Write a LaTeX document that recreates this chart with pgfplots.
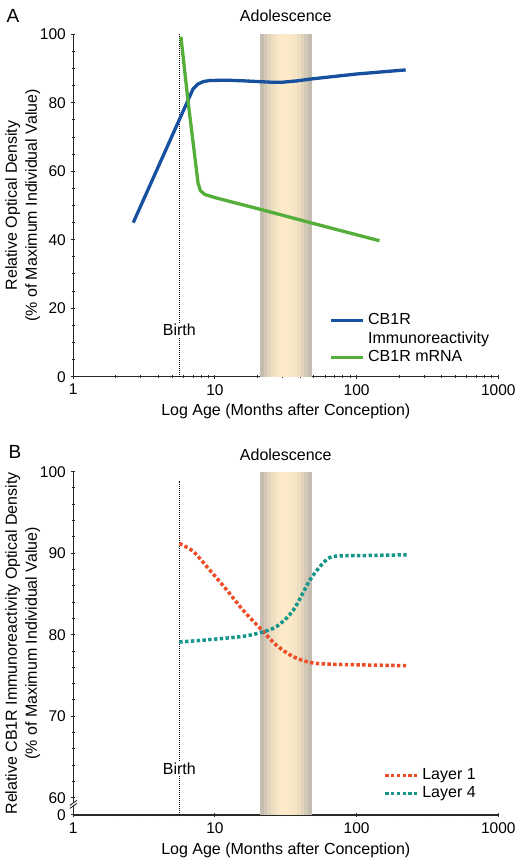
\documentclass[border=0pt]{standalone}
\usepackage{pgfplots}
\pgfplotsset{compat=1.18}
\usepackage{fontspec}
\setmainfont{Liberation Sans}
\definecolor{cbblue}{RGB}{22,80,158}
\definecolor{cbgreen}{RGB}{84,174,58}
\definecolor{lone}{RGB}{238,76,36}
\definecolor{lfour}{RGB}{20,150,138}
\definecolor{bandgrey}{RGB}{192,184,174}
\definecolor{bandcream}{RGB}{253,234,200}
\definecolor{axisgray}{RGB}{40,40,40}
\newcommand\strip[3]{\addplot[draw=none, fill=bandgrey!#3!bandcream, forget plot] coordinates {(#1,\bandlo) (#2,\bandlo) (#2,100) (#1,100)};}
\newcommand\bandstrips{%
\strip{20.80}{22.18}{92}\strip{22.08}{23.54}{68}\strip{23.44}{24.99}{45}%
\strip{24.89}{26.52}{27}\strip{26.42}{28.15}{13}\strip{28.05}{29.89}{4}%
\strip{29.79}{31.72}{0}\strip{31.62}{33.67}{0}\strip{33.57}{35.75}{4}%
\strip{35.65}{37.94}{13}\strip{37.84}{40.28}{27}\strip{40.18}{42.76}{45}%
\strip{42.66}{45.39}{68}\strip{45.29}{48.08}{92}}
\pgfplotsset{
  every axis/.append style={
    tick align=outside,
    major tick length=4pt, minor tick length=2.6pt,
    xtick style={draw=axisgray, line width=1pt},
    ytick style={draw=axisgray, line width=1pt},
  }
}
\begin{document}
\fontsize{16}{19.5}\selectfont
\begin{tikzpicture}
\useasboundingbox (0pt,0pt) rectangle (525pt,864pt);
\node[font=\fontsize{19}{22}\selectfont] at (13pt,848pt) {A};
\node[font=\fontsize{19}{22}\selectfont] at (15pt,412.3pt) {B};
% ---------------- Panel A
\def\bandlo{0}
\begin{axis}[
    scale only axis, width=425pt, height=342.4pt,
    at={(73.3pt,487.3pt)}, anchor=south west,
    xmode=log, log basis x=10, xmin=1, xmax=1000,
    xtick={1,10,100,1000}, xticklabels={1,10,100,1000},
    minor xtick={2,3,4,5,6,7,8,9,20,30,40,50,60,70,80,90,200,300,400,500,600,700,800,900},
    axis lines=left, axis line style={-, color=axisgray, line width=1.2pt},
    tick label style={font=\fontsize{15.5}{18}\selectfont},
    label style={font=\fontsize{16}{20}\selectfont, align=center},
    xlabel={Log Age (Months after Conception)},
    clip=false,
    legend cell align=left,
    legend image code/.code={\draw[#1] (0pt,0pt) -- (32pt,0pt);},
    ymin=0, ymax=100, ytick={0,20,40,60,80,100}, yticklabels={0,20,40,60,80,100},
    minor ytick={5,10,15,25,30,35,45,50,55,65,70,75,85,90,95},
    xlabel style={at={(axis description cs:0.5,-0.102)}, anchor=center},
    ylabel={Relative Optical Density\\(\% of Maximum Individual Value)},
    ylabel style={at={(axis description cs:-0.119,0.5)}, anchor=center},
    legend style={draw=none, fill=none, at={(0.595,0.197)}, anchor=north west,
      font=\fontsize{16}{19}\selectfont, row sep=0pt, column sep=2pt,
      nodes={inner sep=1.5pt, text height=12pt, text depth=3.5pt}},
]
\bandstrips
\addplot[black, line width=0.8pt, dash pattern=on 1pt off 1pt, forget plot]
  coordinates {(5.6,0) (5.6,100)};
\node[fill=white, inner sep=1pt] at (axis cs:5.6,13.6) {Birth};
\node at (axis cs:31.6,100) [yshift=18.3pt] {Adolescence};
\addplot[cbblue, line width=3.3pt, line join=round] coordinates {
 (2.65,45.0) (7.0,84.0) (7.6,85.5) (8.3,86.2) (9.2,86.5) (12,86.6) (16,86.4)
 (20,86.2) (25,86.0) (30,86.0) (38,86.4) (49,87.0) (100,88.4) (222,89.6)};
\addlegendentry{CB1R}
\addlegendimage{empty legend}
\addlegendentry{Immunoreactivity}
\addplot[cbgreen, line width=3.3pt, line join=round] coordinates {
 (5.75,99.3) (6.48,79.9) (7.6,56.5) (7.9,54.3) (8.5,53.2) (10,52.3)
 (20.8,48.9) (48,44.9) (145,39.7)};
\addlegendentry{CB1R mRNA}
\end{axis}
% ---------------- Panel B
\def\bandlo{57.88}
\begin{axis}[
    scale only axis, width=425pt, height=343.3pt,
    at={(73.3pt,49pt)}, anchor=south west,
    xmode=log, log basis x=10, xmin=1, xmax=1000,
    xtick={1,10,100,1000}, xticklabels={1,10,100,1000},
    minor xtick={2,3,4,5,6,7,8,9,20,30,40,50,60,70,80,90,200,300,400,500,600,700,800,900},
    axis lines=left, axis line style={-, color=axisgray, line width=1.2pt},
    tick label style={font=\fontsize{15.5}{18}\selectfont},
    label style={font=\fontsize{16}{20}\selectfont, align=center},
    xlabel={Log Age (Months after Conception)},
    clip=false,
    legend cell align=left,
    legend image code/.code={\draw[#1] (0pt,0pt) -- (32pt,0pt);},
    ymin=57.88, ymax=100, ytick={57.88,60,70,80,90,100}, yticklabels={0,60,70,80,90,100},
    minor ytick={62,64,66,68,72,74,76,78,82,84,86,88,92,94,96,98},
    xlabel style={at={(axis description cs:0.5,-0.102)}, anchor=center},
    ylabel={Relative CB1R Immunoreactivity Optical Density\\(\% of Maximum Individual Value)},
    ylabel style={at={(axis description cs:-0.119,0.5)}, anchor=center},
    legend style={draw=none, fill=none, at={(0.722,0.147)}, anchor=north west,
      font=\fontsize{16}{19}\selectfont, row sep=0pt, column sep=2pt,
      nodes={inner sep=1.5pt, text height=11.5pt, text depth=3.2pt}},
]
\bandstrips
\addplot[black, line width=0.8pt, dash pattern=on 1pt off 1pt, forget plot]
  coordinates {(5.6,57.88) (5.6,98.9)};
\node[fill=white, inner sep=1pt] at (axis cs:5.6,63.6) {Birth};
\node at (axis cs:31.6,100) [yshift=17.4pt] {Adolescence};
\addplot[lone, line width=3.5pt, dash pattern=on 3.4pt off 2.4pt, smooth, tension=0.5] coordinates {
 (5.6,91.2) (7.03,90.2) (9.22,87.9) (12.1,85.5) (15.8,83.0) (20.8,80.8) (27.2,78.7)
 (35.7,77.3) (46.8,76.6) (61.4,76.4) (105,76.3) (231,76.2)};
\addlegendentry{Layer 1}
\addplot[lfour, line width=3.5pt, dash pattern=on 3.4pt off 2.4pt, smooth, tension=0.5] coordinates {
 (5.6,79.1) (9.22,79.4) (15.8,79.8) (20.8,80.25) (27.2,81.0) (35.7,83.0) (46.8,86.7)
 (58.1,88.8) (68.4,89.6) (105,89.7) (225,89.8)};
\addlegendentry{Layer 4}
\fill[white] ([xshift=-4pt,yshift=-2.2pt]axis cs:1,59.2) rectangle ([xshift=4pt,yshift=2.2pt]axis cs:1,59.2);
\draw[axisgray, line width=0.9pt] ([xshift=-3.5pt,yshift=-4.2pt]axis cs:1,59.2) -- ++(7pt,5pt);
\draw[axisgray, line width=0.9pt] ([xshift=-3.5pt,yshift=-1.2pt]axis cs:1,59.2) -- ++(7pt,5pt);
\end{axis}
\end{tikzpicture}
\end{document}
